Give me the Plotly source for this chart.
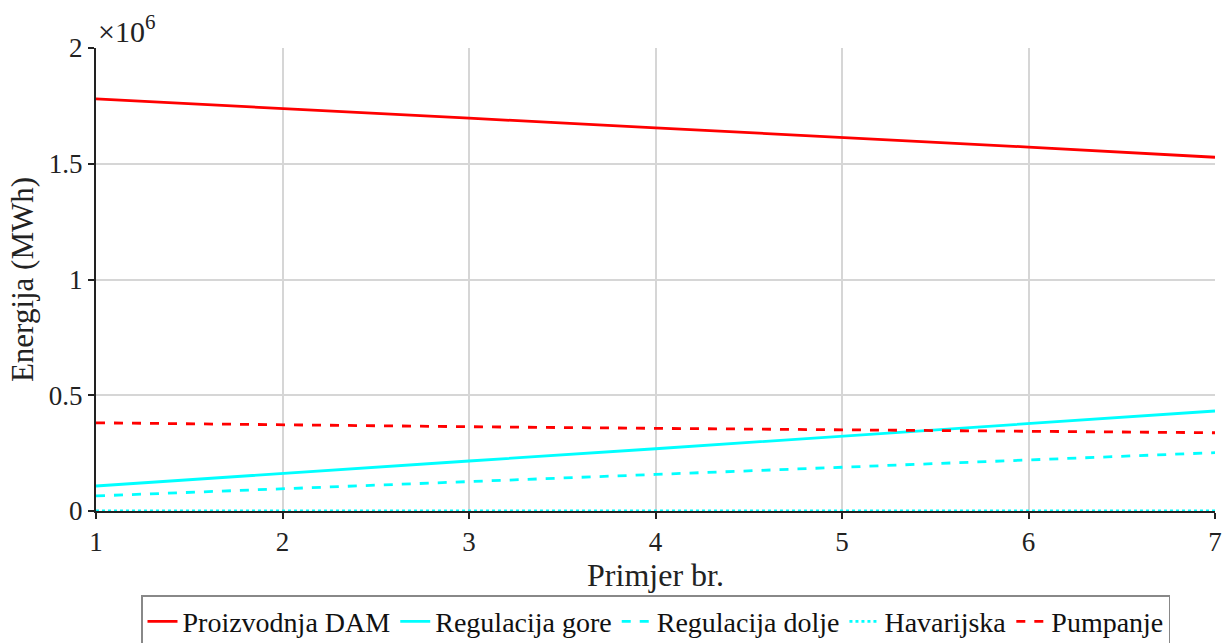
import plotly.graph_objects as go

primjer = [1, 2, 3, 4, 5, 6, 7]
proizvodnja_dam = [1.780e6, 1.737e6, 1.697e6, 1.655e6, 1.614e6, 1.572e6, 1.528e6]
regulacija_gore = [0.108e6, 0.163e6, 0.216e6, 0.269e6, 0.323e6, 0.378e6, 0.432e6]
regulacija_dolje = [0.065e6, 0.095e6, 0.127e6, 0.158e6, 0.189e6, 0.221e6, 0.252e6]
havarijska = [0, 0, 0, 0, 0, 0, 0]
pumpanje = [0.381e6, 0.371e6, 0.364e6, 0.357e6, 0.351e6, 0.345e6, 0.338e6]

y_tickvals = [0, 0.5e6, 1.0e6, 1.5e6, 2.0e6]
y_ticktext = ["0", "0.5", "1", "1.5", "2"]
x_tickvals = [1, 2, 3, 4, 5, 6, 7]

FONT = "Liberation Serif"

series = [
    ("Proizvodnja DAM", proizvodnja_dam, "#ff0000", "solid"),
    ("Regulacija gore", regulacija_gore, "#00ffff", "solid"),
    ("Regulacija dolje", regulacija_dolje, "#00ffff", "dash"),
    ("Havarijska", havarijska, "#00ffff", "dot"),
    ("Pumpanje", pumpanje, "#ff0000", "dash"),
]

fig = go.Figure()
for name, vals, col, dash in series:
    fig.add_trace(go.Scatter(
        x=primjer, y=vals, mode="lines", name=name,
        line=dict(color=col, width=2.8, dash=dash),
    ))

fig.update_layout(
    width=1230, height=643,
    paper_bgcolor="white", plot_bgcolor="white",
    margin=dict(l=96, r=15, t=48, b=132, autoexpand=False),
    font=dict(family=FONT, size=27, color="#222222"),
    showlegend=True,
    legend=dict(
        orientation="h", x=0.5, xanchor="center", y=-0.182, yanchor="top",
        bordercolor="#888888", borderwidth=1.5, bgcolor="white",
        font=dict(family=FONT, size=28, color="#111111"),
        itemwidth=30, tracegroupgap=0,
    ),
    xaxis=dict(
        range=[1, 7], tickvals=x_tickvals,
        tickfont=dict(family=FONT, size=27, color="#222222"),
        showgrid=True, gridcolor="#d6d6d6", gridwidth=1.5,
        showline=True, linecolor="#222222", linewidth=2,
        ticks="outside", ticklen=6, tickwidth=2, tickcolor="#222222",
        zeroline=False, automargin=False,
        title=dict(text="Primjer br.", font=dict(family=FONT, size=32), standoff=2),
    ),
    yaxis=dict(
        range=[0, 2.0e6], tickvals=y_tickvals, ticktext=y_ticktext,
        tickfont=dict(family=FONT, size=27, color="#222222"),
        showgrid=True, gridcolor="#d6d6d6", gridwidth=1.5,
        showline=True, linecolor="#222222", linewidth=2,
        ticks="outside", ticklen=6, tickwidth=2, tickcolor="#222222",
        zeroline=False, automargin=False,
        title=dict(text="Energija (MWh)", font=dict(family=FONT, size=31), standoff=6),
    ),
    annotations=[dict(
        text="×10<sup>6</sup>", xref="paper", yref="paper",
        x=0.0, y=1.0, xanchor="left", yanchor="bottom",
        showarrow=False, font=dict(family=FONT, size=30, color="#222222"),
        xshift=0, yshift=-2,
    )],
)

fig.write_html(
    "out.html",
    config={"displayModeBar": False},
    post_script="document.body.style.margin='0';document.body.style.overflow='hidden';",
)
